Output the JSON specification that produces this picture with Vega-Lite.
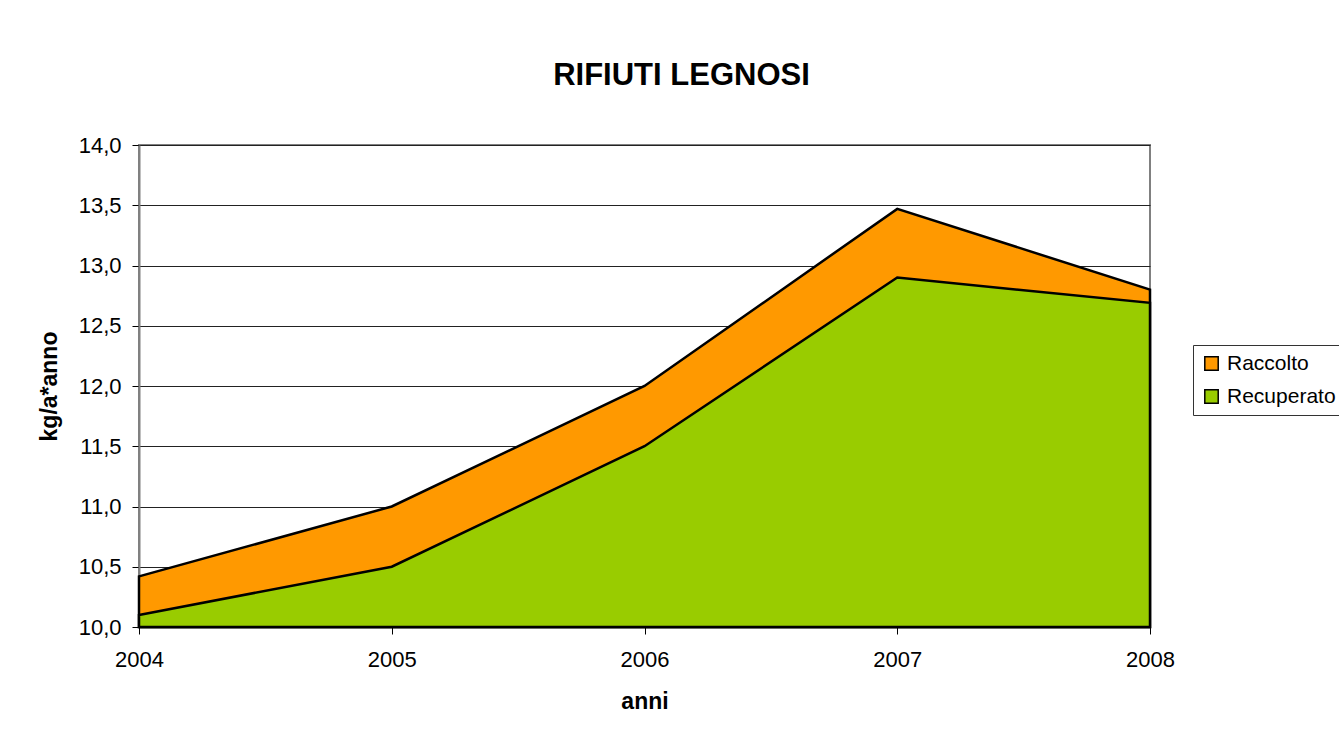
{
  "$schema": "https://vega.github.io/schema/vega-lite/v6.json",
  "width": 1011,
  "height": 482,
  "autosize": {"type": "none"},
  "padding": {"left": 139, "top": 145, "right": 189, "bottom": 114},
  "background": "white",
  "title": {
    "text": "RIFIUTI LEGNOSI",
    "fontSize": 31,
    "fontWeight": "bold",
    "font": "Liberation Sans",
    "color": "black",
    "anchor": "middle",
    "baseline": "alphabetic",
    "dx": 37,
    "offset": 18
  },
  "data": {
    "values": [
      {"anno": 2004, "serie": "Raccolto", "valore": 10.42},
      {"anno": 2005, "serie": "Raccolto", "valore": 11.0},
      {"anno": 2006, "serie": "Raccolto", "valore": 12.0},
      {"anno": 2007, "serie": "Raccolto", "valore": 13.47},
      {"anno": 2008, "serie": "Raccolto", "valore": 12.8},
      {"anno": 2004, "serie": "Recuperato", "valore": 10.1},
      {"anno": 2005, "serie": "Recuperato", "valore": 10.5},
      {"anno": 2006, "serie": "Recuperato", "valore": 11.5},
      {"anno": 2007, "serie": "Recuperato", "valore": 12.9},
      {"anno": 2008, "serie": "Recuperato", "valore": 12.69}
    ]
  },
  "encoding": {
    "x": {
      "field": "anno",
      "type": "quantitative",
      "scale": {"domain": [2004, 2008], "nice": false, "zero": false},
      "axis": {
        "title": "anni",
        "values": [2004, 2005, 2006, 2007, 2008],
        "format": "d",
        "grid": false,
        "labelFlush": false,
        "labelPadding": 15,
        "titlePadding": 20,
        "domainColor": "black",
        "domainWidth": 1.5
      }
    },
    "y": {
      "field": "valore",
      "type": "quantitative",
      "stack": null,
      "scale": {"domain": [10, 14], "nice": false, "zero": false},
      "axis": {
        "title": "kg/a*anno",
        "values": [10, 10.5, 11, 11.5, 12, 12.5, 13, 13.5, 14],
        "format": ".1f",
        "grid": true,
        "gridColor": "#222222",
        "gridWidth": 1,
        "labelPadding": 11,
        "titlePadding": 17,
        "domainColor": "#808080",
        "domainWidth": 2
      }
    },
    "color": {
      "field": "serie",
      "type": "nominal",
      "scale": {"domain": ["Raccolto", "Recuperato"], "range": ["#FF9900", "#99CC00"]},
      "legend": {
        "title": null,
        "orient": "none",
        "legendX": 1054,
        "legendY": 200,
        "symbolType": "square",
        "symbolSize": 180,
        "symbolStrokeColor": "black",
        "symbolStrokeWidth": 1.5,
        "symbolOpacity": 1,
        "labelFontSize": 21,
        "labelFont": "Liberation Sans",
        "labelColor": "black",
        "labelOffset": 5,
        "rowPadding": 11,
        "strokeColor": "#333333",
        "fillColor": "white",
        "padding": 8
      }
    }
  },
  "layer": [
    {
      "transform": [{"filter": "datum.serie === 'Raccolto'"}],
      "mark": {"type": "area", "stroke": "black", "strokeWidth": 2.5, "opacity": 1}
    },
    {
      "transform": [{"filter": "datum.serie === 'Recuperato'"}],
      "mark": {"type": "area", "stroke": "black", "strokeWidth": 2.5, "opacity": 1}
    }
  ],
  "config": {
    "locale": {
      "number": {"decimal": ",", "thousands": ".", "grouping": [3], "currency": ["€", ""]}
    },
    "font": "Liberation Sans",
    "view": {"stroke": "#808080", "strokeWidth": 2},
    "axis": {
      "labelFontSize": 22,
      "labelFont": "Liberation Sans",
      "labelColor": "black",
      "titleFontSize": 23,
      "titleFont": "Liberation Sans",
      "titleFontWeight": "bold",
      "titleColor": "black",
      "tickColor": "black",
      "tickSize": 7,
      "tickWidth": 1
    }
  }
}
